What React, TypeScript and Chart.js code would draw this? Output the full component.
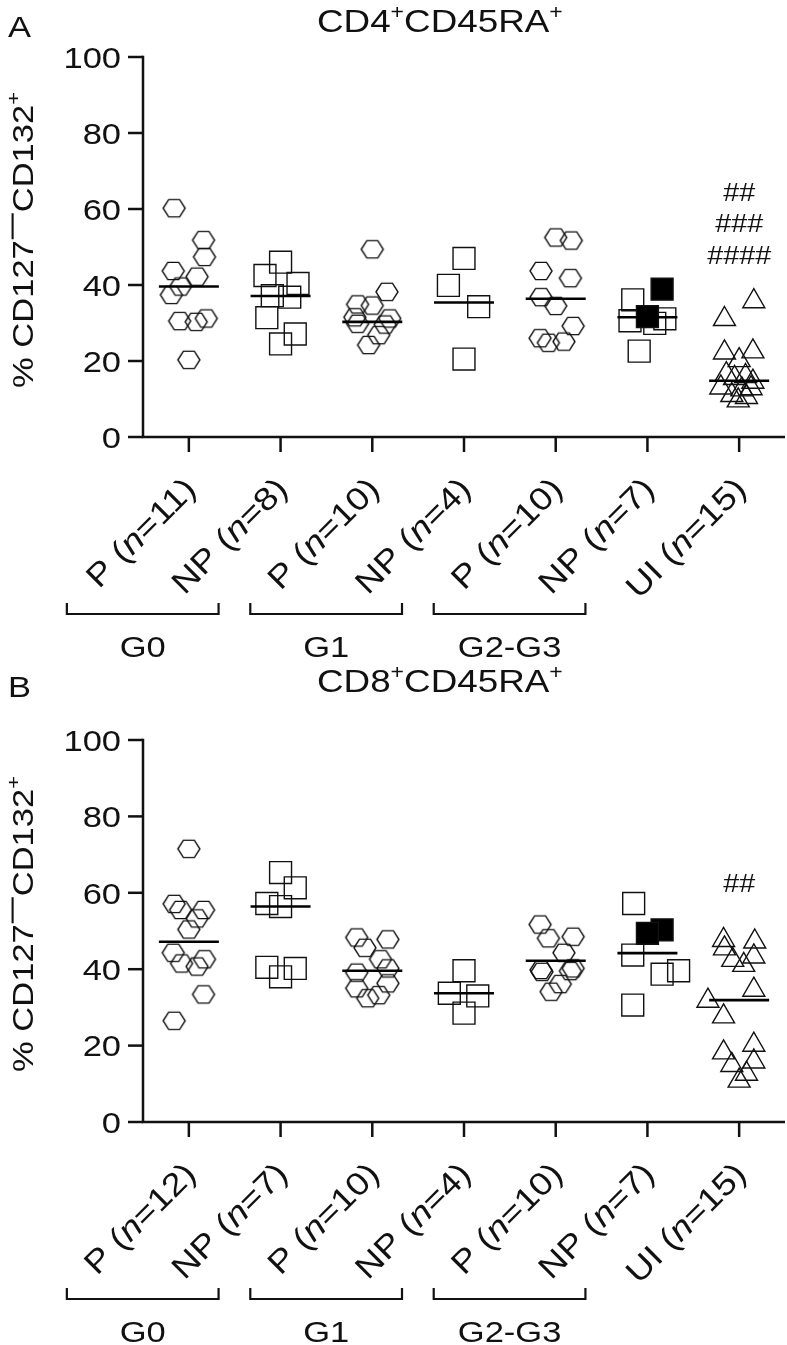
import React, { useEffect, useRef } from "react";
import { Chart, registerables } from "chart.js";
Chart.register(...registerables);

const FONT = '"Liberation Sans", Arial, Helvetica, sans-serif';
const TEXT_SX = 1.15;
const INK = "#111";

// ---------- shared ----------
const yTicks = [0, 20, 40, 60, 80, 100];
const groupNames = ["G0", "G1", "G2-G3"];
const markerKinds = ["hex", "square", "hex", "square", "hex", "square", "triangle"];

// ---------- Panel A : CD4+CD45RA+ ----------
const labelsA = ["P (n=11)", "NP (n=8)", "P (n=10)", "NP (n=4)", "P (n=10)", "NP (n=7)", "UI (n=15)"];
const a_G0_P = [60.2, 51.8, 47.4, 43.7, 42.2, 39.6, 37.4, 30.5, 30.3, 31.2, 20.3];
const a_G0_P_jit = [-0.16, 0.16, 0.17, -0.17, 0.09, -0.09, -0.19, -0.1, 0.08, 0.19, 0];
const a_G0_NP = [46.0, 42.5, 40.4, 37.2, 36.8, 31.4, 27.1, 24.5];
const a_G0_NP_jit = [0, -0.17, 0.19, -0.09, 0.1, -0.15, 0.16, 0];
const a_G1_P = [49.4, 38.2, 34.9, 34.6, 31.5, 29.8, 31.2, 29.6, 26.8, 24.2];
const a_G1_P_jit = [0, 0.16, -0.16, 0, -0.19, -0.16, 0.19, 0.14, 0.07, -0.04];
const a_G1_NP = [47.0, 39.9, 34.3, 20.5];
const a_G1_NP_jit = [0, -0.17, 0.16, 0];
const a_G23_P = [52.5, 51.7, 43.7, 41.8, 36.8, 34.5, 29.2, 26.0, 24.8, 25.1];
const a_G23_P_jit = [0, 0.17, -0.16, 0.16, -0.16, 0, 0.19, -0.17, -0.08, 0.09];
const a_G23_NP = [36.1, 31.1, 30.6, 29.9, 22.6];
const a_G23_NP_jit = [-0.16, 0.19, -0.19, 0.08, -0.09];
const a_G23_NP_filled = [38.9, 31.7];
const a_G23_NP_filled_jit = [0.16, 0];
const a_UI = [35.7, 31.0, 22.2, 22.5, 20.2, 16.5, 15.5, 16.0, 14.5, 13.0, 12.5, 12.8, 11.0, 10.5, 9.6];
const a_UI_jit = [0.16, -0.16, -0.16, 0.15, 0, -0.14, -0.05, 0.07, 0.15, -0.2, 0.03, 0.13, -0.08, 0.08, -0.01];
const a_centers = [39.6, 37.1, 30.3, 35.4, 36.4, 31.5, 14.8];
const a_annotText = ["##", "###", "####"];
const a_annotY = [64.5, 56.3, 47.9];

// ---------- Panel B : CD8+CD45RA+ ----------
const labelsB = ["P (n=12)", "NP (n=7)", "P (n=10)", "NP (n=4)", "P (n=10)", "NP (n=7)", "UI (n=15)"];
const b_G0_P = [71.5, 57.1, 55.5, 55.5, 53.3, 50.4, 44.3, 41.5, 42.6, 40.7, 33.4, 26.5];
const b_G0_P_jit = [0, -0.16, -0.09, 0.16, 0.09, 0, -0.17, -0.08, 0.17, 0.09, 0.16, -0.16];
const b_G0_NP = [65.3, 61.3, 57.2, 56.4, 40.5, 40.2, 38.0];
const b_G0_NP_jit = [0, 0.16, -0.15, 0, -0.15, 0.16, 0];
const b_G1_P = [48.3, 47.8, 45.6, 42.6, 39.1, 40.2, 36.3, 35.0, 32.4, 33.2];
const b_G1_P_jit = [-0.17, 0.17, -0.08, 0.09, -0.17, 0.17, 0.17, -0.17, -0.05, 0.07];
const b_G1_NP = [39.6, 33.7, 33.0, 28.5];
const b_G1_NP_jit = [0, -0.16, 0.15, 0];
const b_G23_P = [51.7, 48.1, 48.5, 44.3, 40.2, 39.8, 39.3, 39.5, 36.1, 34.1];
const b_G23_P_jit = [-0.17, -0.08, 0.19, 0.09, 0.19, -0.16, -0.15, 0.16, 0.05, -0.05];
const b_G23_NP = [57.2, 43.7, 39.6, 38.7, 30.6];
const b_G23_NP_jit = [-0.15, -0.16, 0.34, 0.16, -0.16];
const b_G23_NP_filled = [50.3, 49.4];
const b_G23_NP_filled_jit = [0.16, 0];
const b_UI = [47.6, 47.2, 45.4, 42.4, 43.3, 41.1, 34.6, 31.7, 27.6, 18.2, 20.2, 14.9, 15.8, 12.6, 10.8];
const b_UI_jit = [-0.17, 0.17, -0.16, -0.07, 0.16, 0.05, 0.16, -0.34, -0.17, -0.17, 0.16, -0.08, 0.16, 0.08, 0];
const b_centers = [47.2, 56.4, 39.6, 33.7, 42.2, 44.2, 31.9];
const b_annotText = ["##"];
const b_annotY = [62.6];

type Run = { t?: string; it?: boolean; sup?: boolean; bar?: number };

const titleA: Run[] = [{ t: "CD4" }, { t: "+", sup: true }, { t: "CD45RA" }, { t: "+", sup: true }];
const titleB: Run[] = [{ t: "CD8" }, { t: "+", sup: true }, { t: "CD45RA" }, { t: "+", sup: true }];
const yTitle: Run[] = [{ t: "% CD127" }, { bar: 28 }, { t: "CD132" }, { t: "+", sup: true }];

function runFont(r: Run, size: number) {
  const s = r.sup ? Math.round(size * 0.62) : size;
  return `${r.it ? "italic " : ""}${s}px ${FONT}`;
}
function runsWidth(ctx: CanvasRenderingContext2D, runs: Run[], size: number) {
  let w = 0;
  for (const r of runs) {
    if (r.bar) { w += r.bar; continue; }
    ctx.font = runFont(r, size);
    w += ctx.measureText(r.t || "").width * TEXT_SX;
  }
  return w;
}
function drawRuns(ctx: CanvasRenderingContext2D, runs: Run[], x: number, y: number, size: number, align: "left" | "center" | "right") {
  const w = runsWidth(ctx, runs, size);
  let cx = align === "left" ? x : align === "center" ? x - w / 2 : x - w;
  ctx.textAlign = "left";
  ctx.textBaseline = "alphabetic";
  for (const r of runs) {
    if (r.bar) {
      ctx.save();
      ctx.lineWidth = size * 0.07;
      ctx.beginPath();
      ctx.moveTo(cx + 1, y - size * 0.68);
      ctx.lineTo(cx + r.bar - 1, y - size * 0.68);
      ctx.stroke();
      ctx.restore();
      cx += r.bar;
      continue;
    }
    ctx.font = runFont(r, size);
    const tw = ctx.measureText(r.t || "").width * TEXT_SX;
    ctx.save();
    ctx.translate(cx, y - (r.sup ? size * 0.42 : 0));
    ctx.scale(TEXT_SX, 1);
    ctx.fillText(r.t || "", 0, 0);
    ctx.restore();
    cx += tw;
  }
}
function labelRuns(s: string): Run[] {
  const k = s.indexOf("(n");
  if (k < 0) return [{ t: s }];
  return [{ t: s.slice(0, k + 1) }, { t: "n", it: true }, { t: s.slice(k + 2) }];
}

let hexImg: HTMLCanvasElement | null = null;
function getHex() {
  if (hexImg) return hexImg;
  const c = document.createElement("canvas");
  c.width = 26; c.height = 22;
  const g = c.getContext("2d")!;
  const cx = 13, cy = 11, rx = 11, hx = 5.5, hy = 8.6;
  g.strokeStyle = INK; g.lineWidth = 1.4; g.lineJoin = "miter";
  g.beginPath();
  g.moveTo(cx - rx, cy);
  g.lineTo(cx - hx, cy - hy);
  g.lineTo(cx + hx, cy - hy);
  g.lineTo(cx + rx, cy);
  g.lineTo(cx + hx, cy + hy);
  g.lineTo(cx - hx, cy + hy);
  g.closePath();
  g.stroke();
  hexImg = c;
  return c;
}

type PanelCfg = {
  letter: string; title: Run[]; labels: string[];
  groups: number[][]; jits: number[][];
  filled: number[]; filledJit: number[];
  centers: number[]; annotText: string[]; annotY: number[];
  top: number; bottom: number; height: number; yTitleCenter: number;
};

const panelA: PanelCfg = {
  letter: "A", title: titleA, labels: labelsA,
  groups: [a_G0_P, a_G0_NP, a_G1_P, a_G1_NP, a_G23_P, a_G23_NP, a_UI],
  jits: [a_G0_P_jit, a_G0_NP_jit, a_G1_P_jit, a_G1_NP_jit, a_G23_P_jit, a_G23_NP_jit, a_UI_jit],
  filled: a_G23_NP_filled, filledJit: a_G23_NP_filled_jit,
  centers: a_centers, annotText: a_annotText, annotY: a_annotY,
  top: 57, bottom: 437, height: 660, yTitleCenter: 240,
};
const panelB: PanelCfg = {
  letter: "B", title: titleB, labels: labelsB,
  groups: [b_G0_P, b_G0_NP, b_G1_P, b_G1_NP, b_G23_P, b_G23_NP, b_UI],
  jits: [b_G0_P_jit, b_G0_NP_jit, b_G1_P_jit, b_G1_NP_jit, b_G23_P_jit, b_G23_NP_jit, b_UI_jit],
  filled: b_G23_NP_filled, filledJit: b_G23_NP_filled_jit,
  centers: b_centers, annotText: b_annotText, annotY: b_annotY,
  top: 80, bottom: 462, height: 685, yTitleCenter: 264,
};

function decorPlugin(cfg: PanelCfg) {
  return {
    id: "decor" + cfg.letter,
    afterDraw(chart: any) {
      const ctx: CanvasRenderingContext2D = chart.ctx;
      const xs = chart.scales.x, ys = chart.scales.y;
      const { left, right, top, bottom } = chart.chartArea;
      ctx.save();
      ctx.strokeStyle = INK; ctx.fillStyle = INK;
      ctx.lineWidth = 2.5; ctx.lineCap = "butt"; ctx.lineJoin = "miter";
      // axes
      ctx.beginPath();
      ctx.moveTo(left, top - 1.2);
      ctx.lineTo(left, bottom);
      ctx.lineTo(right, bottom);
      ctx.stroke();
      // y ticks + labels
      for (const v of yTicks) {
        const y = ys.getPixelForValue(v);
        ctx.beginPath(); ctx.moveTo(left - 15, y); ctx.lineTo(left, y); ctx.stroke();
        drawRuns(ctx, [{ t: String(v) }], left - 22, y + 30 * 0.36, 30, "right");
      }
      // x ticks + rotated labels
      cfg.labels.forEach((lab, i) => {
        const x = xs.getPixelForValue(i);
        ctx.beginPath(); ctx.moveTo(x, bottom); ctx.lineTo(x, bottom + 15); ctx.stroke();
        ctx.save();
        ctx.translate(x + 2, bottom + 47);
        ctx.rotate(-Math.PI / 4);
        drawRuns(ctx, labelRuns(lab), 0, 32 * 0.3, 32, "right");
        ctx.restore();
      });
      // group brackets
      groupNames.forEach((g, k) => {
        const xl = xs.getPixelForValue(2 * k) - 122;
        const xr = xs.getPixelForValue(2 * k + 1) - 62;
        ctx.lineWidth = 2.2;
        ctx.beginPath();
        ctx.moveTo(xl, bottom + 166);
        ctx.lineTo(xl, bottom + 177);
        ctx.lineTo(xr, bottom + 177);
        ctx.lineTo(xr, bottom + 166);
        ctx.stroke();
        drawRuns(ctx, [{ t: g }], (xl + xr) / 2, bottom + 220, 30, "center");
      });
      // annotations
      cfg.annotText.forEach((s, k) => {
        drawRuns(ctx, [{ t: s }], xs.getPixelForValue(6), ys.getPixelForValue(cfg.annotY[k]) + 9, 25, "center");
      });
      // titles
      drawRuns(ctx, [{ t: cfg.letter }], 8, 37, 30, "left");
      drawRuns(ctx, cfg.title, 317, 32, 32, "left");
      // y title
      ctx.save();
      ctx.translate(33, cfg.yTitleCenter);
      ctx.rotate(-Math.PI / 2);
      drawRuns(ctx, yTitle, 0, 0, 30, "center");
      ctx.restore();
      ctx.restore();
    },
  };
}

function Panel({ cfg, offsetTop }: { cfg: PanelCfg; offsetTop: number }) {
  const ref = useRef<HTMLCanvasElement | null>(null);
  useEffect(() => {
    if (!ref.current) return;
    const hex = getHex();
    const datasets: any[] = [];
    datasets.push({
      data: cfg.centers.map((v, i) => ({ x: i, y: v })),
      pointStyle: "line", pointRadius: 30, borderWidth: 2.6,
      borderColor: "#000", backgroundColor: "#000", order: 0,
    });
    datasets.push({
      data: cfg.filled.map((v, k) => ({ x: 5 + cfg.filledJit[k], y: v })),
      pointStyle: "rect", pointRadius: 15.5, borderWidth: 1.4,
      borderColor: INK, backgroundColor: "#000", order: 1,
    });
    cfg.groups.forEach((vals, i) => {
      const kind = markerKinds[i];
      const ds: any = {
        data: vals.map((v, k) => ({ x: i + cfg.jits[i][k], y: v })),
        borderWidth: 1.4, borderColor: INK, backgroundColor: "rgba(0,0,0,0)", order: 2,
      };
      if (kind === "hex") { ds.pointStyle = hex; }
      else if (kind === "square") { ds.pointStyle = "rect"; ds.pointRadius = 15.5; }
      else { ds.pointStyle = "triangle"; ds.pointRadius = 12.7; }
      datasets.push(ds);
    });
    const chart = new Chart(ref.current, {
      type: "scatter",
      data: { datasets },
      options: {
        responsive: false,
        animation: false,
        events: [],
        layout: { autoPadding: false, padding: { left: 143, right: 2, top: cfg.top, bottom: cfg.height - cfg.bottom } },
        scales: {
          x: { type: "linear", min: -0.5, max: 6.5, display: false },
          y: { type: "linear", min: 0, max: 100, display: false },
        },
        plugins: { legend: { display: false }, tooltip: { enabled: false } },
        datasets: { scatter: { clip: false as any } },
      } as any,
      plugins: [decorPlugin(cfg)],
    });
    return () => chart.destroy();
  }, [cfg]);
  return (
    <canvas
      ref={ref}
      width={787}
      height={cfg.height}
      style={{ position: "absolute", left: 0, top: offsetTop, width: 787, height: cfg.height }}
    />
  );
}

export default function App() {
  return (
    <div style={{ position: "absolute", left: 0, top: 0, width: 787, height: 1345, background: "#fff", overflow: "hidden" }}>
      <Panel cfg={panelA} offsetTop={0} />
      <Panel cfg={panelB} offsetTop={660} />
    </div>
  );
}
